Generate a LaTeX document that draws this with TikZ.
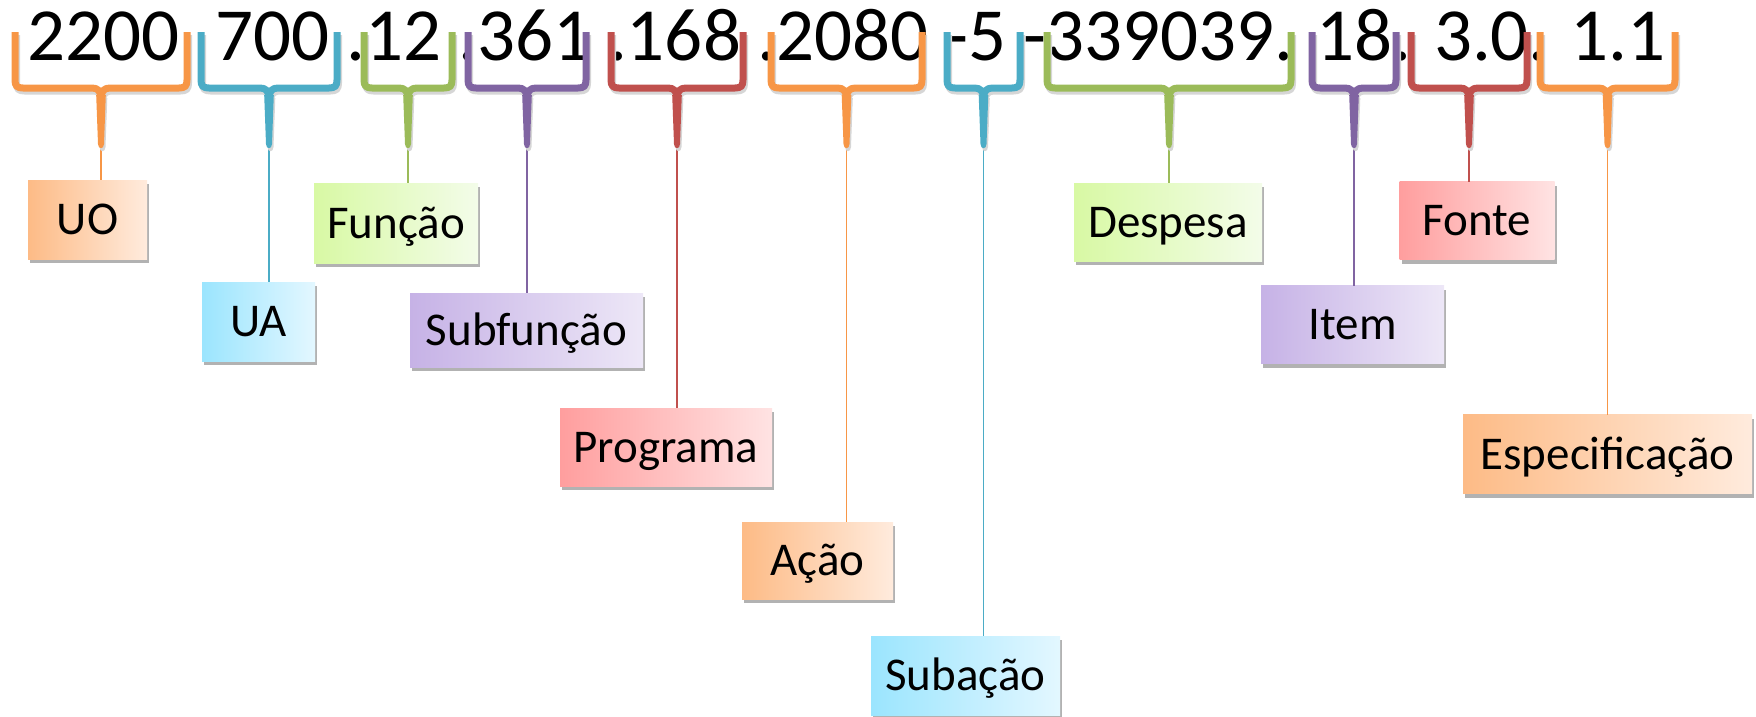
\documentclass[tikz,border=0pt]{standalone}
\usepackage{fontspec}
\setmainfont{Carlito}
\usetikzlibrary{shadows}
\definecolor{bOr}{HTML}{F79646}
\definecolor{bBl}{HTML}{4BACC6}
\definecolor{bGr}{HTML}{9BBB59}
\definecolor{bPu}{HTML}{8064A2}
\definecolor{bRe}{HTML}{C0504D}
\definecolor{orL}{HTML}{FDBB86}\definecolor{orR}{HTML}{FFEBDD}
\definecolor{blL}{HTML}{9BE5FE}\definecolor{blR}{HTML}{E3F7FF}
\definecolor{grL}{HTML}{D8F9A4}\definecolor{grR}{HTML}{F3FCE9}
\definecolor{puL}{HTML}{C6B2E6}\definecolor{puR}{HTML}{EDE7F7}
\definecolor{reL}{HTML}{FF9E9E}\definecolor{reR}{HTML}{FFE3E3}
\newcommand\mybraceshape[2]{%
  \draw[line width=7pt, line join=round] (#1,32) -- (#1,80) .. controls (#1,86) and (#1+2,88) .. (#1+8,88) -- (\bc-9,88) .. controls (\bc-3,88) and (\bc,91) .. (\bc,99);
  \draw[line width=7pt, line join=round] (#2,32) -- (#2,80) .. controls (#2,86) and (#2-2,88) .. (#2-8,88) -- (\bc+9,88) .. controls (\bc+3,88) and (\bc,91) .. (\bc,99);
  \fill (\bc-4.8,95) -- (\bc-3,144) .. controls (\bc-3,149.5) and (\bc+3,149.5) .. (\bc+3,144) -- (\bc+4.8,95) -- cycle;
}
\newcommand\mybrace[3]{%
  \pgfmathsetmacro\bc{(#1+#2)/2}%
  \begin{scope}[shift={(1.5,3)}, black!16]
    \mybraceshape{#1}{#2}
  \end{scope}
  \begin{scope}[#3]
    \mybraceshape{#1}{#2}
  \end{scope}
}
\begin{document}
\begin{tikzpicture}[x=1pt,y=-1pt,
  lbl/.style={inner sep=0pt, outer sep=0pt, text height=30.3pt, text depth=0pt,
    font=\fontsize{47}{56}\selectfont,
    drop shadow={shadow xshift=2pt, shadow yshift=-4pt, opacity=.3, fill=black}},
  orbox/.style={lbl, left color=orL, right color=orR},
  blbox/.style={lbl, left color=blL, right color=blR},
  grbox/.style={lbl, left color=grL, right color=grR},
  pubox/.style={lbl, left color=puL, right color=puR},
  rebox/.style={lbl, left color=reL, right color=reR},
  conn/.style={line width=1.5pt},
  code/.style={anchor=base west, inner sep=0pt, font=\fontsize{75}{90}\selectfont}
]
\useasboundingbox (0,0) rectangle (1756,716);

% stem tips
\coordinate (t1) at (101,146);
\coordinate (t2) at (269,146);
\coordinate (t3) at (408,146);
\coordinate (t4) at (527,146);
\coordinate (t5) at (677,146);
\coordinate (t6) at (846.5,146);
\coordinate (t7) at (983.5,146);
\coordinate (t8) at (1169,146);
\coordinate (t9) at (1354,146);
\coordinate (t10) at (1469,146);
\coordinate (t11) at (1607.5,146);

% label boxes
\node[orbox, minimum width=119pt, minimum height=79pt] (UO) at (87.5,219.5) {UO};
\node[blbox, minimum width=113pt, minimum height=79pt] (UA) at (258.5,321.5) {UA};
\node[grbox, minimum width=164pt, minimum height=80pt] (FUN) at (396,223) {Função};
\node[pubox, minimum width=233pt, minimum height=74pt] (SUBF) at (526.5,330) {Subfunção};
\node[rebox, minimum width=212pt, minimum height=78pt] (PROG) at (666,447) {Programa};
\node[orbox, minimum width=151pt, minimum height=77pt] (ACAO) at (817.5,560.5) {Ação};
\node[blbox, minimum width=189pt, minimum height=79pt] (SUBA) at (965.5,675.5) {Subação};
\node[grbox, minimum width=188pt, minimum height=78pt] (DESP) at (1168,222) {Despesa};
\node[pubox, minimum width=183pt, minimum height=78pt] (ITEM) at (1352.5,324.5) {Item};
\node[rebox, minimum width=155pt, minimum height=78pt] (FONTE) at (1477,220.5) {Fonte};
\node[orbox, minimum width=289pt, minimum height=79pt] (ESPEC) at (1607.5,454) {Especificação};

% connectors
\draw[conn, bOr] (t1) -- (t1 |- UO.north);
\draw[conn, bBl] (t2) -- (t2 |- UA.north);
\draw[conn, bGr] (t3) -- (t3 |- FUN.north);
\draw[conn, bPu] (t4) -- (t4 |- SUBF.north);
\draw[conn, bRe] (t5) -- (t5 |- PROG.north);
\draw[conn, bOr] (t6) -- (t6 |- ACAO.north);
\draw[conn, bBl] (t7) -- (t7 |- SUBA.north);
\draw[conn, bGr] (t8) -- (t8 |- DESP.north);
\draw[conn, bPu] (t9) -- (t9 |- ITEM.north);
\draw[conn, bRe] (t10) -- (t10 |- FONTE.north);
\draw[conn, bOr] (t11) -- (t11 |- ESPEC.north);

% code line
\node[code] (c1) at (27,60) {2200};
\node[code] (c2) at (215,60) {700 .12 .361 .168 .2080 -5 -339039. 18. 3.0. 1.1};

% braces
\mybrace{15}{187}{bOr}
\mybrace{201}{337}{bBl}
\mybrace{364}{452}{bGr}
\mybrace{468}{586}{bPu}
\mybrace{611}{743}{bRe}
\mybrace{771}{922}{bOr}
\mybrace{947}{1020}{bBl}
\mybrace{1047}{1291}{bGr}
\mybrace{1312}{1396}{bPu}
\mybrace{1411}{1527}{bRe}
\mybrace{1540}{1675}{bOr}
\end{tikzpicture}
\end{document}
